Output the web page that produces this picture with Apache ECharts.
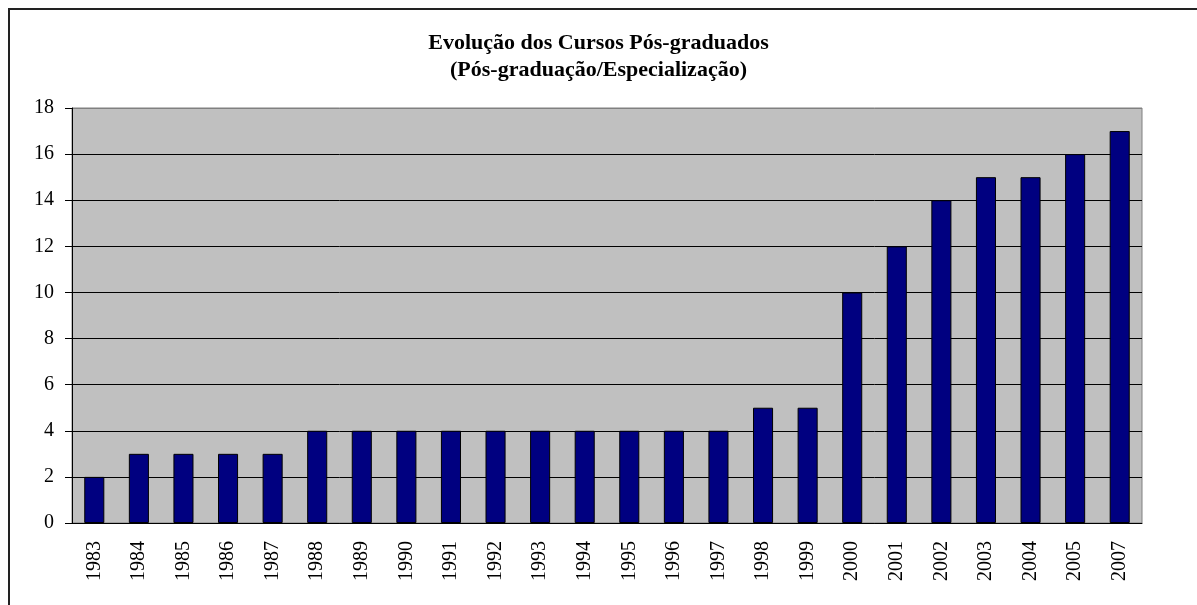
<!DOCTYPE html>
<html>
<head>
<meta charset="utf-8">
<script src="https://cdn.jsdelivr.net/npm/echarts@6/dist/echarts.min.js"></script>
<style>
  html, body { margin: 0; padding: 0; background: #fff; }
  #frame {
    position: absolute; left: 8px; top: 8px; width: 1189px; height: 597px;
    border-top: 2px solid #222; border-left: 2px solid #222; box-sizing: border-box;
  }
  #chart { position: absolute; left: 0; top: 0; width: 1197px; height: 605px; }
</style>
</head>
<body>
<div id="frame"></div>
<div id="chart"></div>
<script>
const years = ['1983', '1984', '1985', '1986', '1987', '1988', '1989', '1990', '1991', '1992',
  '1993', '1994', '1995', '1996', '1997', '1998', '1999', '2000', '2001', '2002',
  '2003', '2004', '2005', '2007']
const cursos = [2, 3, 3, 3, 3, 4, 4, 4, 4, 4, 4, 4, 4, 4, 4, 5, 5, 10, 12, 14, 15, 15, 16, 17]

const serif = '"Liberation Serif", "Times New Roman", serif'

// gridlines black, the top one (at 18) is the grey plot border
const gridColors = ['#000', '#000', '#000', '#000', '#000', '#000', '#000', '#000', '#000', '#808080']

const chart = echarts.init(document.getElementById('chart'))
chart.setOption({
  animation: false,
  title: {
    text: 'Evolução dos Cursos Pós-graduados\n(Pós-graduação/Especialização)',
    left: 'center',
    top: 25,
    textStyle: { fontFamily: serif, fontSize: 22, fontWeight: 'bold', color: '#000', lineHeight: 27 }
  },
  grid: {
    left: 72, right: 55, top: 108, bottom: 82,
    show: true,
    backgroundColor: '#C0C0C0',
    borderColor: '#808080',
    borderWidth: 1
  },
  xAxis: {
    type: 'category',
    data: years,
    axisLine: { lineStyle: { color: '#000', width: 1 } },
    axisTick: { length: 6, lineStyle: { color: '#000' } },
    axisLabel: { rotate: 90, margin: 18, fontFamily: serif, fontSize: 20, color: '#000' }
  },
  yAxis: {
    type: 'value',
    min: 0,
    max: 18,
    interval: 2,
    axisLine: { show: true, lineStyle: { color: '#000', width: 1 } },
    axisTick: { show: true, length: 7, lineStyle: { color: '#000' } },
    axisLabel: { margin: 18, fontFamily: serif, fontSize: 20, color: '#000' },
    splitLine: { lineStyle: { color: gridColors, width: 1 } }
  },
  series: [{
    type: 'bar',
    data: cursos,
    barCategoryGap: '55%',
    itemStyle: { color: '#000080', borderColor: '#000', borderWidth: 1 }
  }]
})
</script>
</body>
</html>
